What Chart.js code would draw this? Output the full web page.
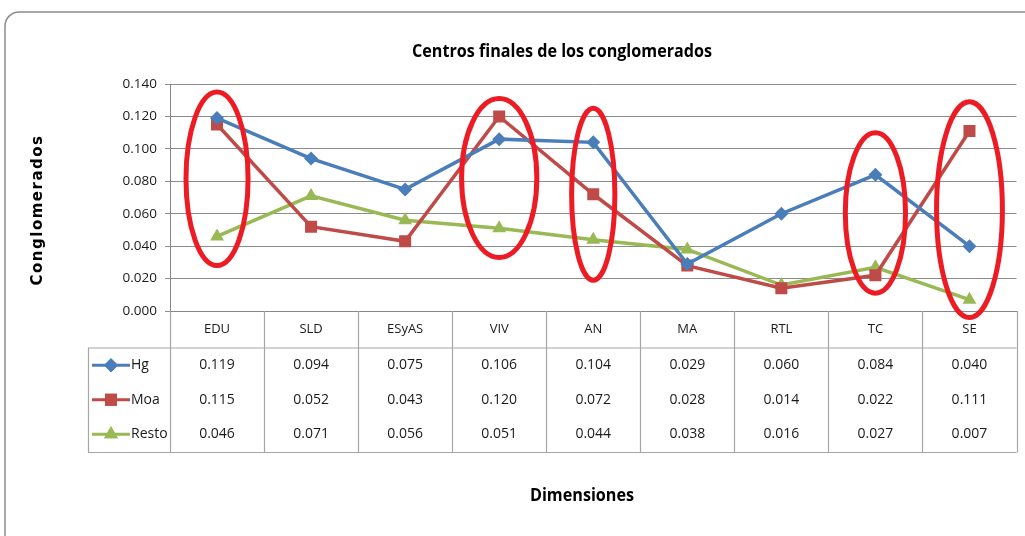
<!DOCTYPE html>
<html>
<head>
<meta charset="utf-8">
<script src="https://cdn.jsdelivr.net/npm/chart.js@4"></script>
<style>
  html, body { margin: 0; padding: 0; background: #fff; }
  canvas { display: block; }
</style>
</head>
<body>
<canvas id="chart" width="1025" height="536"></canvas>
<script>
// Dimensions (categories)
const dims = ['EDU', 'SLD', 'ESyAS', 'VIV', 'AN', 'MA', 'RTL', 'TC', 'SE'];

// Cluster centres
const hg    = [0.119, 0.094, 0.075, 0.106, 0.104, 0.029, 0.060, 0.084, 0.040];
const moa   = [0.115, 0.052, 0.043, 0.120, 0.072, 0.028, 0.014, 0.022, 0.111];
const resto = [0.046, 0.071, 0.056, 0.051, 0.044, 0.038, 0.016, 0.027, 0.007];

const yTicks = [0, 0.02, 0.04, 0.06, 0.08, 0.1, 0.12, 0.14];

// red ellipses drawn over the chart (category, value range, half width in categories)
const markCats  = ['EDU', 'VIV', 'AN', 'TC', 'SE'];
const markLow   = [0.028, 0.033, 0.019, 0.011, -0.004];
const markHigh  = [0.135, 0.131, 0.125, 0.110, 0.129];
const markHalfW = [0.33, 0.40, 0.23, 0.32, 0.35];

const series = [
    { label: 'Hg',    data: hg,    color: '#4a7ebb', style: 'rectRot',  r: 7 },
    { label: 'Moa',   data: moa,   color: '#be4b48', style: 'rect',     r: 8.5 },
    { label: 'Resto', data: resto, color: '#98b954', style: 'triangle', r: 8 }
];

const tickFont = '"Open Sans", sans-serif';
const boldFont = '"Open Sans", sans-serif';

// condensed bold text, like the original Calibri headings
function narrowText(ctx, text, cx, cy) {
    ctx.save();
    ctx.translate(cx, cy);
    ctx.scale(0.95, 1);
    ctx.fillText(text, 0, 0);
    ctx.restore();
}

// table, titles, ellipses
const extras = {
    id: 'extras',
    afterDatasetsDraw(chart) {
        const ctx = chart.ctx;
        const x = chart.scales.x, y = chart.scales.y;
        const area = chart.chartArea;
        const step = x.getPixelForValue(1) - x.getPixelForValue(0);
        const rowTop = area.bottom + 37;
        const rowH = 34.5;
        const tableBottom = rowTop + rowH * series.length + 1;
        const legendLeft = 88;

        ctx.save();
        // table grid
        ctx.strokeStyle = '#a6a6a6';
        ctx.lineWidth = 1.2;
        ctx.beginPath();
        for (let i = 0; i <= dims.length; i++) {
            const px = Math.round(x.getPixelForValue(i - 0.5)) + 0.5;
            ctx.moveTo(px, area.bottom);
            ctx.lineTo(px, tableBottom);
        }
        ctx.moveTo(legendLeft, rowTop); ctx.lineTo(area.right, rowTop);
        ctx.moveTo(legendLeft, tableBottom); ctx.lineTo(area.right, tableBottom);
        ctx.moveTo(legendLeft + 0.5, rowTop); ctx.lineTo(legendLeft + 0.5, tableBottom);
        ctx.stroke();

        // values
        ctx.fillStyle = '#1a1a1a';
        ctx.font = '14px ' + tickFont;
        ctx.textAlign = 'center';
        ctx.textBaseline = 'middle';
        series.forEach((s, r) => {
            const cy = rowTop + rowH * (r + 0.5);
            s.data.forEach((v, i) => {
                ctx.fillText(v.toFixed(3), x.getPixelForValue(i), cy);
            });
            // legend key
            const kx0 = legendLeft + 4, kx1 = legendLeft + 42;
            ctx.strokeStyle = s.color;
            ctx.lineWidth = 3;
            ctx.beginPath();
            ctx.moveTo(kx0, cy); ctx.lineTo(kx1, cy);
            ctx.stroke();
            ctx.fillStyle = s.color;
            Chart.helpers.drawPoint(ctx, { pointStyle: s.style, radius: s.r, borderWidth: 0 }, (kx0 + kx1) / 2, cy);
            ctx.fill();
            ctx.fillStyle = '#1a1a1a';
            ctx.textAlign = 'left';
            ctx.fillText(s.label, kx1 + 1, cy);
            ctx.textAlign = 'center';
        });

        // red ellipses
        ctx.strokeStyle = '#ed1c24';
        ctx.lineWidth = 5;
        markCats.forEach((c, i) => {
            const idx = dims.indexOf(c);
            const cx = x.getPixelForValue(idx);
            const top = y.getPixelForValue(markHigh[i]);
            const bot = y.getPixelForValue(markLow[i]);
            ctx.beginPath();
            ctx.ellipse(cx, (top + bot) / 2, markHalfW[i] * step, (bot - top) / 2, 0, 0, Math.PI * 2);
            ctx.stroke();
        });

        // titles
        ctx.fillStyle = '#000';
        ctx.font = 'bold 17px ' + boldFont;
        ctx.textAlign = 'center';
        narrowText(ctx, 'Centros finales de los conglomerados', 562, 52);
        narrowText(ctx, 'Dimensiones', 582, 496);

        ctx.save();
        ctx.translate(38, 210);
        ctx.rotate(-Math.PI / 2);
        ctx.font = 'bold 15px "DejaVu Sans", sans-serif';
        ctx.letterSpacing = '1.5px';
        ctx.fillText('Conglomerados', 0, 0);
        ctx.restore();

        // outer frame
        ctx.strokeStyle = '#8c8c8c';
        ctx.lineWidth = 1.5;
        ctx.beginPath();
        ctx.roundRect(5, 12, 1060, 560, 14);
        ctx.stroke();
        ctx.restore();
    }
};

new Chart(document.getElementById('chart').getContext('2d'), {
    type: 'line',
    data: {
        labels: dims,
        datasets: series.map(s => ({
            label: s.label,
            data: s.data,
            borderColor: s.color,
            backgroundColor: s.color,
            borderWidth: 3.5,
            pointStyle: s.style,
            pointRadius: s.r,
            pointBorderWidth: 0,
            tension: 0
        }))
    },
    options: {
        responsive: false,
        animation: false,
        layout: { padding: { left: 0, right: 8, top: 84, bottom: 0 } },
        plugins: {
            legend: { display: false },
            tooltip: { enabled: false },
            title: { display: false }
        },
        scales: {
            x: {
                offset: true,
                grid: { display: false, drawTicks: false },
                border: { color: '#868686', width: 1 },
                ticks: {
                    color: '#1a1a1a',
                    font: { family: tickFont, size: 13 },
                    padding: 10,
                    maxRotation: 0
                },
                afterFit(scale) { scale.height = 225; }
            },
            y: {
                min: 0,
                max: 0.14,
                afterBuildTicks(scale) { scale.ticks = yTicks.map(v => ({ value: v })); },
                grid: { color: '#8c8c8c', lineWidth: 1, tickLength: 5 },
                border: { color: '#868686', width: 1 },
                ticks: {
                    color: '#1a1a1a',
                    font: { family: tickFont, size: 13.5 },
                    padding: 8,
                    callback: v => v.toFixed(3)
                },
                afterFit(scale) { scale.width = 170; }
            }
        }
    },
    plugins: [extras]
});
</script>
</body>
</html>
